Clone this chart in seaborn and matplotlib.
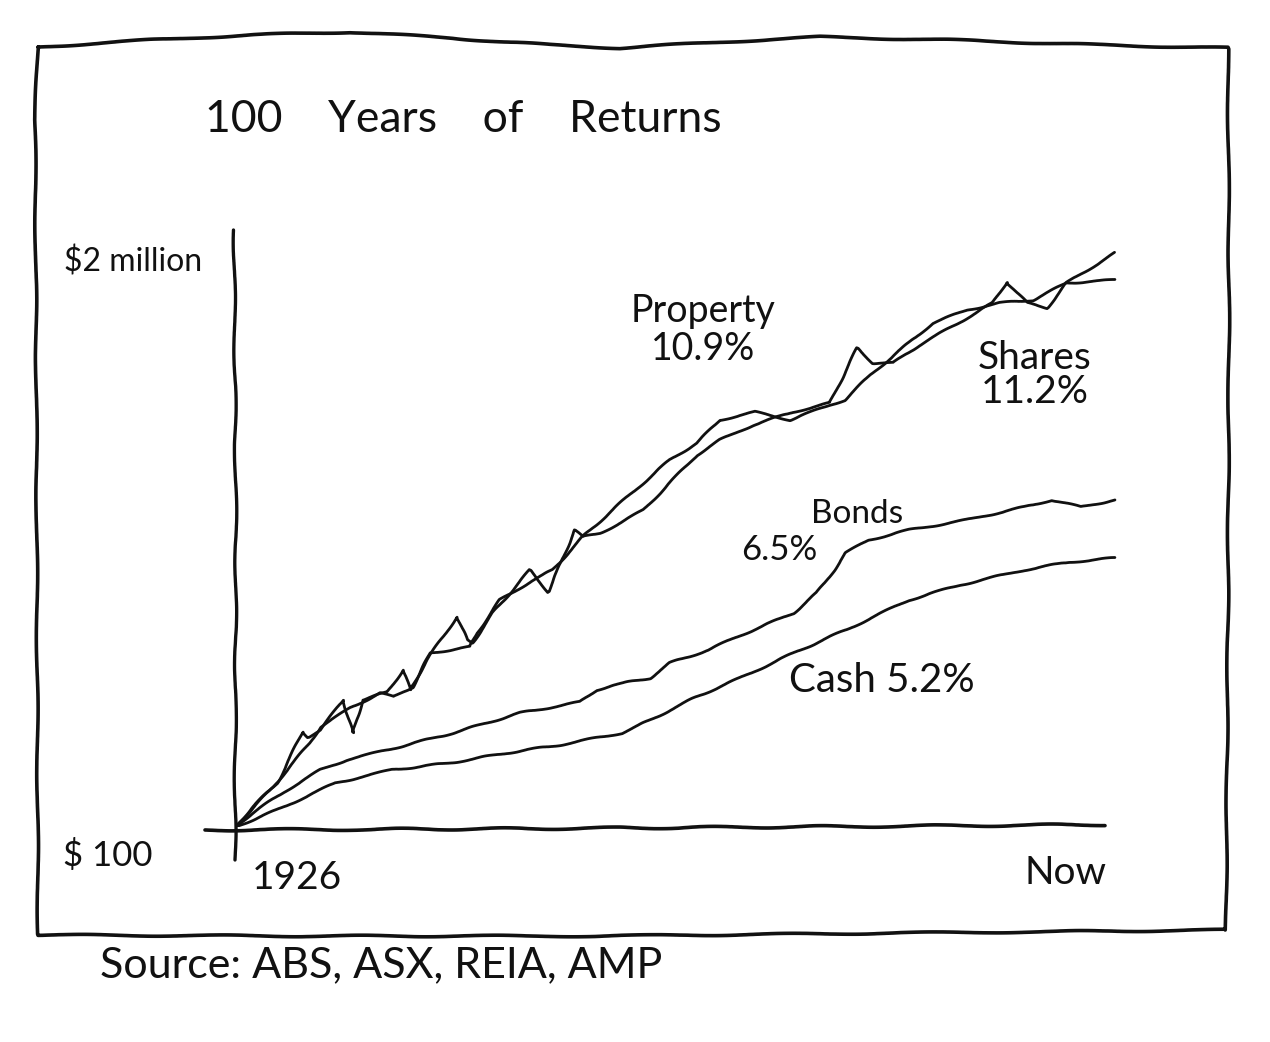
import numpy as np
import pandas as pd
import matplotlib
matplotlib.use("Agg")
import matplotlib.pyplot as plt
from matplotlib.lines import Line2D
import matplotlib.transforms as mtransforms
import seaborn as sns

# ---------------- data (years since 1926, growth of $100) ----------------
shares_years = [0, 2.0, 4.8, 7.7, 8.3, 9.7, 12.3, 13.4, 14.5, 17.3, 19.1, 19.9, 21.8, 25.2,
                26.4, 27.0, 29.3, 33.5, 35.6, 36.6, 38.6, 39.5, 41.5, 43.8, 46.4, 49.4,
                52.5, 55.1, 58.9, 63.4, 67.6, 70.7, 72.5, 74.8, 77.8, 82.4, 86.1, 87.7,
                90.0, 92.3, 94.5, 100]
shares_values = [100, 142, 216, 529, 484, 547, 926, 520, 926, 1066, 1567, 1104, 1867, 3968,
                 2651, 2516, 4256, 9036, 6151, 8735, 18240, 16130, 17300, 20620, 25890, 41560,
                 67900, 88300, 114900, 144200, 168900, 443000, 340500, 340500, 467000, 698700,
                 974800, 1408000, 974800, 892900, 1384000, 2342000]

property_years = [0, 4.0, 8.5, 9.7, 13.1, 16.5, 18.0, 20.2, 22.2, 26.7, 27.5, 30.1, 33.9,
                  36.1, 39.5, 43.8, 49.4, 52.5, 55.1, 59.1, 63.1, 67.6, 69.3, 72.2, 75.6,
                  79.3, 83.2, 86.9, 90.7, 94.5, 100]
property_values = [100, 191, 436, 577, 805, 1047, 976, 1163, 2112, 2346, 2999, 5346, 7594,
                   9046, 16130, 29270, 62200, 83800, 125400, 144200, 125400, 163100, 178000,
                   276000, 427700, 686500, 862200, 974800, 1027000, 1384000, 1459000]

bonds_years = [0, 2.0, 5.9, 9.7, 12.7, 17.3, 24.8, 32.4, 39.2, 41.1, 43.0, 47.2, 49.4, 53.8,
               57.0, 63.5, 66.1, 68.1, 69.4, 72.0, 76.6, 83.1, 89.7, 92.8, 96.1, 100]
bonds_values = [100, 128, 191, 272, 324, 386, 520, 738, 894, 1104, 1205, 1362, 1772, 2225,
                2795, 4256, 6044, 9046, 12180, 15300, 18240, 21730, 27290, 30860, 27290, 30860]

cash_years = [0, 4.8, 11.4, 17.8, 24.4, 30.9, 36.9, 44.0, 47.2, 52.4, 57.4, 63.5, 69.9,
              76.6, 82.4, 89.7, 94.9, 100]
cash_values = [100, 135, 216, 272, 307, 366, 421, 520, 652, 976, 1362, 2112, 3273, 5346,
               6954, 9046, 10410, 11160]

series_names = ["Shares", "Property", "Bonds", "Cash"]
series_labels = ["Shares\n11.2%", "Property\n10.9%", "Bonds", "Cash 5.2%"]
bonds_rate_label = "6.5%"
y_tick_values = [100, 2_000_000]
y_tick_labels = ["$ 100", "$2 million"]
x_tick_labels = ["1926", "Now"]
title = "100    Years    of    Returns"
source = "Source: ABS, ASX, REIA, AMP"

frames = []
for name, yrs, vals in [("Shares", shares_years, shares_values),
                        ("Property", property_years, property_values),
                        ("Bonds", bonds_years, bonds_values),
                        ("Cash", cash_years, cash_values)]:
    frames.append(pd.DataFrame({"year": yrs, "value": vals, "asset": name}))
df = pd.concat(frames, ignore_index=True)

# ---------------- style ----------------
sns.set_theme(style="white")
plt.rcParams["font.family"] = ["Lato", "DejaVu Sans"]
plt.rcParams["font.weight"] = "normal"
plt.rcParams["text.color"] = "#111111"
INK = "#111111"

W, H = 1270, 1042
fig = plt.figure(figsize=(W / 100, H / 100), dpi=100, facecolor="white")

def fx(px):
    return px / W

def fy(py):
    return 1 - py / H

ax_left, ax_right, ax_top, ax_bottom = 235, 1122, 230, 827
ax = fig.add_axes([fx(ax_left), fy(ax_bottom), (ax_right - ax_left) / W, (ax_bottom - ax_top) / H])
ax.set_facecolor("none")

sns.lineplot(data=df, x="year", y="value", hue="asset",
             palette={n: INK for n in series_names}, estimator=None, sort=False,
             legend=False, linewidth=2.0, ax=ax)
for ln in ax.get_lines():
    ln.set_sketch_params(scale=0.8, length=60, randomness=2)
    ln.set_solid_joinstyle("round")

ax.set_yscale("log")
ax.set_xlim(0, 100.8)
ax.set_ylim(100, 10 ** (2 + (ax_bottom - ax_top) * 4.30103 / 565))
for s in ax.spines.values():
    s.set_visible(False)
ax.set_xticks([])
ax.set_yticks([])
ax.minorticks_off()
ax.set_xlabel("")
ax.set_ylabel("")

# hand-drawn axes
ax_w = ax_right - ax_left
ax_h = ax_bottom - ax_top
yax = Line2D([0, 0.001, -0.001], [(ax_bottom - 860) / ax_h, 0.5, 1.0],
             transform=ax.transAxes, color=INK, lw=2.4, clip_on=False)
xax = Line2D([(205 - ax_left) / ax_w, 0.3, 0.7, (1105 - ax_left) / ax_w],
             [-0.005, -0.003, 0.001, 0.004],
             transform=ax.transAxes, color=INK, lw=2.6, clip_on=False)
for l in (yax, xax):
    l.set_sketch_params(scale=1.0, length=120, randomness=2)
    ax.add_line(l)

# axis labels
blend = mtransforms.blended_transform_factory(ax.transAxes, ax.transData)
ax.text((202 - ax_left) / ax_w, y_tick_values[1], y_tick_labels[1], transform=blend,
        ha="right", va="center", fontsize=23, color=INK)
fig.text(fx(108), fy(855), y_tick_labels[0], ha="center", va="center", fontsize=25, color=INK)
fig.text(fx(297), fy(878), x_tick_labels[0], ha="center", va="center", fontsize=28, color=INK)
fig.text(fx(1065), fy(873), x_tick_labels[1], ha="center", va="center", fontsize=28, color=INK)

# series labels
ax.text(53.2, 607400, series_labels[1], ha="center", va="center", fontsize=27,
        color=INK, linespacing=1.05)
ax.text(90.9, 276000, series_labels[0], ha="center", va="center", fontsize=28,
        color=INK, linespacing=0.95)
ax.text(70.7, 24140, series_labels[2], ha="center", va="center", fontsize=24, color=INK)
ax.text(61.9, 12840, bonds_rate_label, ha="center", va="center", fontsize=25, color=INK)
ax.text(73.5, 1315, series_labels[3], ha="center", va="center", fontsize=29, color=INK)

# title and source
fig.text(fx(205), fy(120), title, ha="left", va="center", fontsize=32, color=INK)
fig.text(fx(100), fy(965), source, ha="left", va="center", fontsize=31, color=INK)

# hand-drawn frame
top = [(38, 47), (150, 40), (250, 35), (350, 32), (450, 38), (550, 45), (620, 48),
       (720, 42), (820, 37), (950, 40), (1100, 45), (1228, 48)]
right = [(1228, 48), (1229, 300), (1228, 600), (1226, 930)]
bottom = [(1226, 930), (900, 933), (600, 936), (300, 936), (38, 935)]
left = [(38, 935), (37, 600), (36, 300), (35, 120), (38, 47)]
pts = top + right[1:] + bottom[1:] + left[1:]
frame = Line2D([fx(p[0]) for p in pts], [fy(p[1]) for p in pts],
               transform=fig.transFigure, color=INK, lw=2.6)
frame.set_sketch_params(scale=0.8, length=150, randomness=2)
fig.add_artist(frame)

fig.savefig("out.png", dpi=100, facecolor="white")
